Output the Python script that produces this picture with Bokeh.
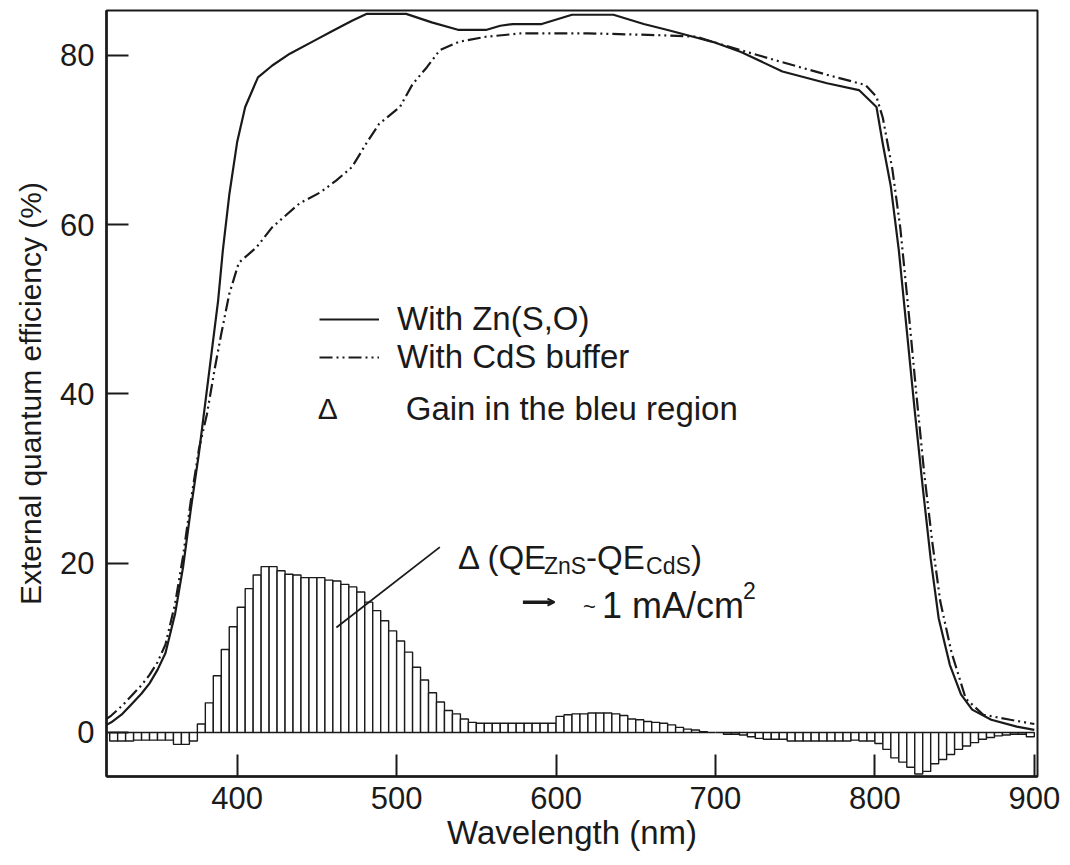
from bokeh.plotting import figure
from bokeh.models import (Range1d, Legend, LegendItem, Label, Arrow, OpenHead,
                          FixedTicker)
from bokeh.embed import file_html
from bokeh.resources import INLINE

# ---------------- data ----------------
# Zn(S,O) buffer EQE curve
zns_wl = [318, 321, 328, 334, 340, 345, 350, 355, 361, 366, 371, 376, 380, 384, 388,
          391, 395, 400, 405, 413, 422, 433, 449, 460, 472, 481, 506, 522, 539, 556,
          565, 573, 591, 610, 636, 655, 670, 686, 700, 716, 742, 770, 790, 801, 805,
          810, 815, 820, 825, 830, 835, 840, 847, 854, 861, 873, 889, 900]
zns_qe = [0.9, 1.2, 2.2, 3.4, 4.6, 5.8, 7.4, 9.4, 14.0, 19.5, 26.5, 33.0, 39.0, 45.0, 51.0,
          57.0, 63.5, 69.8, 73.9, 77.4, 78.8, 80.2, 81.8, 82.9, 84.1, 84.9, 84.9, 83.9, 83.0, 83.0,
          83.5, 83.7, 83.7, 84.8, 84.8, 83.7, 83.0, 82.2, 81.5, 80.4, 78.1, 76.7, 75.9, 73.9, 69.5,
          64.5, 57.0, 47.5, 38.0, 29.0, 20.5, 13.5, 8.0, 4.5, 2.7, 1.5, 0.7, 0.3]

# CdS buffer EQE curve
cds_wl = [318, 321, 328, 334, 340, 345, 350, 355, 361, 366, 371, 376, 381, 386, 390,
          395, 401, 412, 422, 439, 452, 462, 472, 481, 489, 502, 510, 519, 527, 539,
          556, 578, 620, 662, 688, 700, 716, 738, 770, 794, 801, 805, 811, 816, 821,
          826, 831, 836, 841, 848, 857, 868, 885, 900]
cds_qe = [1.6, 2.0, 3.2, 4.4, 5.6, 6.8, 8.3, 10.4, 15.2, 20.8, 27.5, 33.5, 37.6, 43.1, 47.1,
          51.8, 55.5, 57.3, 59.7, 62.5, 63.8, 65.2, 66.8, 69.6, 71.9, 73.9, 76.6, 78.6, 80.6, 81.6,
          82.2, 82.6, 82.6, 82.4, 82.2, 81.5, 80.6, 79.4, 77.7, 76.5, 75.1, 72.6, 66.5, 59.5, 50.0,
          40.0, 30.5, 22.5, 15.5, 9.5, 4.0, 2.1, 1.5, 1.0]

# Difference QE_ZnS - QE_CdS in 5 nm bins starting at 320 nm
bin_start = 320
bin_width = 5
delta_qe = [
    -1.0, -1.0, -1.0, -0.9, -0.9, -0.9, -0.9, -0.9, -1.4, -1.4, -1.0,          # 320-370
    1.0, 3.5, 6.7, 9.8, 12.5,                                                  # 375-395
    14.8, 17.0, 18.6, 19.6, 19.6, 19.1, 18.7, 18.6, 18.3, 18.3,                # 400-445
    18.3, 18.0, 17.9, 17.5, 17.2, 16.6, 15.4, 14.4, 13.2, 12.0,                # 450-495
    10.8, 9.5, 7.7, 6.2, 4.7, 3.6, 2.6, 2.2, 1.6, 1.2,                         # 500-545
    1.1, 1.1, 1.1, 1.1, 1.1, 1.1, 1.1, 1.1, 1.1, 1.1,                          # 550-595
    1.9, 2.1, 2.2, 2.2, 2.3, 2.3, 2.3, 2.2, 2.0, 1.6,                          # 600-645
    1.5, 1.3, 1.2, 1.1, 0.9, 0.6, 0.4, 0.3, 0.1, 0.0,                          # 650-695
    0.0, -0.2, -0.2, -0.3, -0.5, -0.7, -0.8, -0.8, -0.8, -1.0,                 # 700-745
    -1.0, -1.0, -1.0, -1.0, -1.0, -1.0, -1.0, -0.9, -1.0, -1.0,                # 750-795
    -1.3, -2.0, -3.0, -3.5, -4.1, -4.9, -4.6, -3.7, -3.2, -2.6,                # 800-845
    -2.0, -1.6, -1.2, -0.8, -0.6, -0.4, -0.3, -0.2, -0.2, -0.5,                # 850-895
]
bin_left = [bin_start + i * bin_width for i in range(len(delta_qe))]
bin_right = [b + bin_width for b in bin_left]

x_ticks = [400, 500, 600, 700, 800, 900]
y_ticks = [0, 20, 40, 60, 80]

# ---------------- figure ----------------
FONT = "Liberation Sans"
INK = "#1a1a1a"

p = figure(width=1062, height=863,
           x_range=Range1d(318, 902), y_range=Range1d(-5.2, 85.3),
           output_backend="svg", toolbar_location=None,
           min_border_left=106, min_border_right=25, min_border_top=10,
           min_border_bottom=87)

p.background_fill_color = "white"
p.border_fill_color = "white"
p.outline_line_color = INK
p.outline_line_width = 2
p.xgrid.visible = False
p.ygrid.visible = False

for ax in (p.xaxis[0], p.yaxis[0]):
    ax.axis_line_color = INK
    ax.axis_line_width = 2.5
    ax.major_tick_line_color = INK
    ax.major_tick_line_width = 2
    ax.major_tick_in = 22
    ax.major_tick_out = 0
    ax.minor_tick_line_color = None
    ax.major_label_text_font = FONT
    ax.major_label_text_font_size = "31px"
    ax.major_label_text_color = INK
    ax.axis_label_text_font = FONT
    ax.axis_label_text_font_style = "normal"
    ax.axis_label_text_color = INK

p.xaxis.axis_label_text_font_size = "33px"
p.yaxis.axis_label_text_font_size = "30px"
p.xaxis.ticker = FixedTicker(ticks=x_ticks)
p.yaxis.ticker = FixedTicker(ticks=y_ticks)
p.xaxis.axis_label = "Wavelength (nm)"
p.yaxis.axis_label = "External quantum efficiency (%)"
p.xaxis.major_label_standoff = 10
p.xaxis.axis_label_standoff = 2
p.yaxis.major_label_standoff = 12
p.yaxis.axis_label_standoff = 10

# difference bars
bars = p.quad(left=bin_left, right=bin_right, bottom=0, top=delta_qe,
              fill_color="white", line_color=INK, line_width=1.4)

# curves
r_zns = p.line(zns_wl, zns_qe, line_color=INK, line_width=2.2)
r_cds = p.line(cds_wl, cds_qe, line_color=INK, line_width=2.2,
               line_dash="13 4 2 4 2 4")

legend = Legend(items=[LegendItem(label="With Zn(S,O)", renderers=[r_zns]),
                       LegendItem(label="With CdS buffer", renderers=[r_cds])],
                location=(213, 400), background_fill_alpha=0, border_line_alpha=0,
                padding=0, margin=0, spacing=0, glyph_width=60, glyph_height=30,
                label_standoff=18, label_height=30,
                label_text_font=FONT, label_text_font_size="33px",
                label_text_color=INK)
p.add_layout(legend)

def lab(x, y, text, size="32px", xo=0, yo=0):
    p.add_layout(Label(x=x, y=y, text=text, x_offset=xo, y_offset=yo,
                       text_font=FONT, text_font_size=size, text_color=INK,
                       text_baseline="alphabetic", text_align="left"))

# legend third row
lab(450.5, 38.3, "\u0394", "30px")
lab(505.7, 38.3, "Gain in the bleu region", "33px")

# annotation Δ (QE_ZnS - QE_CdS)
ax0, ay0 = 538.5, 20.7
lab(ax0, ay0, "\u0394 (QE", "33px")
lab(ax0, ay0, "ZnS", "23px", xo=86, yo=-9)
lab(ax0, ay0, "-QE", "33px", xo=128)
lab(ax0, ay0, "CdS", "23px", xo=188, yo=-9)
lab(ax0, ay0, ")", "33px", xo=233)

# leader line to the bars
p.add_layout(Arrow(end=None, x_start=527.1, y_start=21.9, x_end=462.2, y_end=12.4,
                   line_color=INK, line_width=1.8))

# arrow ~ 1 mA/cm2
p.add_layout(Arrow(end=OpenHead(size=7, line_width=2, line_color=INK),
                   x_start=579.2, y_start=15.4, x_end=599.0, y_end=15.4,
                   line_color=INK, line_width=3.5))
lab(616.9, 14.9, "~", "22px")
lab(628.8, 15.0, "1 mA/cm", "36px")
lab(628.8, 15.0, "2", "23px", xo=141, yo=15)

open("out.html", "w").write(file_html(p, INLINE))
